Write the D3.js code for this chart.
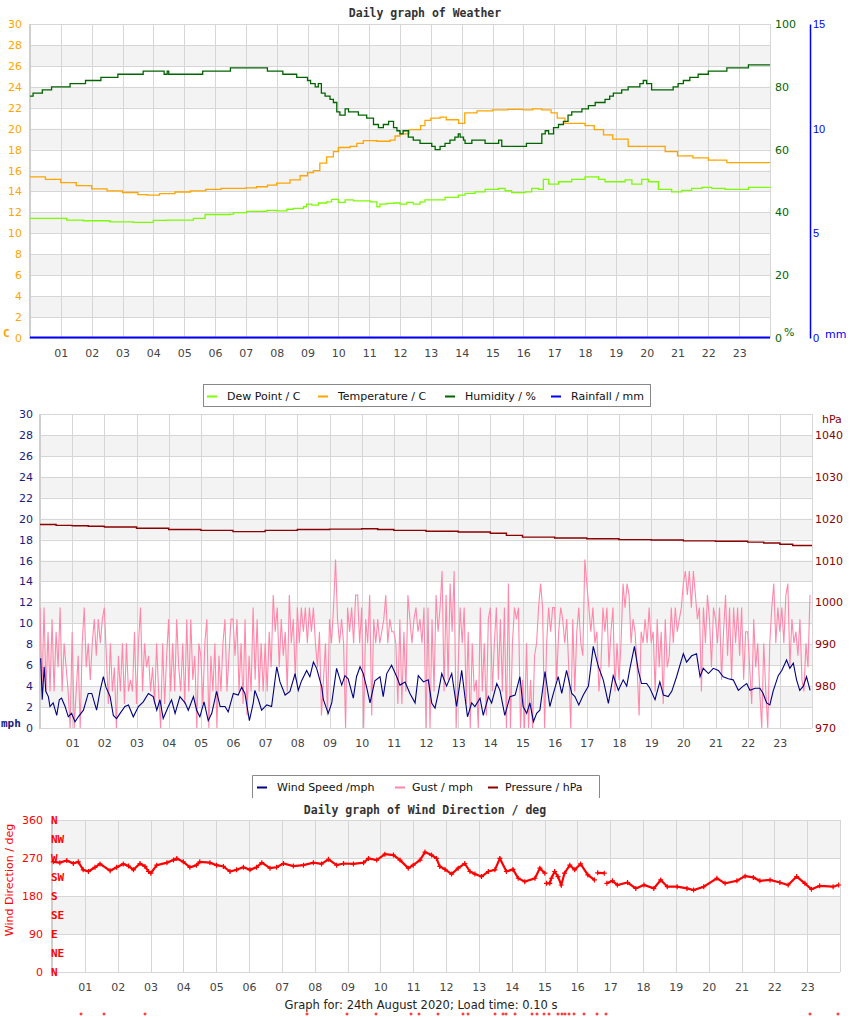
<!DOCTYPE html>
<html><head><meta charset="utf-8">
<script src="https://cdn.jsdelivr.net/npm/d3@7"></script>
<style>
body{margin:0;background:#fff;}
svg{display:block;font-family:"DejaVu Sans",sans-serif;}
.mono{font-family:"DejaVu Sans Mono",monospace;font-weight:bold;}
</style></head><body>
<svg id="c" width="850" height="1017"></svg>
<script>
// ---------- tick labels / categories ----------
const hourTicks = d3.range(1, 24);
const tempTicks = d3.range(0, 31, 2);
const humTicks = [0, 20, 40, 60, 80, 100];
const rainTicks = [0, 5, 10, 15];
const windTicks = d3.range(0, 31, 2);
const pressTicks = [970, 980, 990, 1000, 1010, 1020, 1030, 1040];
const dirTicks = [0, 90, 180, 270, 360];
const compassLabels = ["N", "NE", "E", "SE", "S", "SW", "W", "NW", "N"];
const compassValues = [0, 45, 90, 135, 180, 225, 270, 315, 360];

// ---------- chart 1 series: [hour, value] ----------
const temperature = [[0,15.4],[0.5,15.15],[1,14.85],[1.5,14.55],[2,14.25],[2.5,14.05],[3,13.9],[3.5,13.7],[3.8,13.65],[4.2,13.8],[4.7,13.95],[5.2,14.05],[5.7,14.2],[6.2,14.3],[6.6,14.3],[7.0,14.35],[7.35,14.45],[7.7,14.6],[8.0,14.8],[8.43,15.1],[8.76,15.5],[9.0,15.8],[9.19,16.0],[9.4,16.7],[9.62,17.3],[9.84,17.8],[10.0,18.2],[10.38,18.3],[10.6,18.6],[10.81,18.85],[11.25,18.8],[11.68,18.9],[11.84,19.3],[12.0,19.5],[12.3,19.9],[12.5,19.9],[12.67,20.3],[12.81,20.8],[13.0,21.0],[13.3,21.1],[13.5,20.85],[13.9,20.5],[14.1,21.5],[14.5,21.7],[15.0,21.8],[15.5,21.85],[16.0,21.8],[16.3,21.9],[16.6,21.8],[16.9,21.5],[17.1,21.0],[17.35,20.5],[18.0,20.3],[18.3,19.9],[18.6,19.4],[18.9,19.0],[19.4,18.3],[20.2,18.3],[20.6,17.8],[21.0,17.4],[21.5,17.2],[22.0,17.0],[22.6,16.75],[24,16.75]];

const dewPoint = [[0,11.43],[0.65,11.43],[1.19,11.27],[1.73,11.2],[2.27,11.2],[2.59,11.1],[3.35,11.05],[3.57,11.05],[4.0,11.24],[4.43,11.27],[4.87,11.27],[5.3,11.43],[5.68,11.8],[6.49,11.84],[6.6,11.97],[7.03,12.1],[7.68,12.2],[8.0,12.15],[8.33,12.3],[8.54,12.38],[8.87,12.54],[8.97,12.8],[9.14,12.7],[9.35,12.9],[9.62,13.0],[9.78,13.25],[10.0,12.95],[10.22,13.2],[10.49,13.1],[10.81,13.1],[11.03,13.0],[11.25,12.54],[11.35,12.8],[11.57,12.86],[11.79,12.9],[12.0,12.8],[12.22,12.95],[12.43,12.8],[12.65,13.0],[12.81,13.2],[13.14,13.2],[13.46,13.44],[13.89,13.66],[14.11,13.82],[14.43,13.97],[14.76,14.2],[15.19,14.3],[15.41,14.07],[15.62,13.88],[16.06,13.97],[16.27,14.3],[16.49,14.2],[16.65,15.16],[16.82,14.7],[17.14,14.93],[17.57,15.16],[18.0,15.4],[18.22,15.4],[18.44,15.16],[18.65,14.93],[19.08,14.93],[19.3,15.1],[19.52,14.7],[19.84,15.16],[20.06,14.93],[20.38,14.2],[20.81,13.97],[21.14,14.1],[21.46,14.3],[21.79,14.4],[22.11,14.3],[22.54,14.2],[23.19,14.2],[23.3,14.4],[24,14.45]];

const humidity = [[0,77],[0.1,78],[0.4,79],[0.7,80],[1.3,81],[1.8,82],[2.3,83],[2.85,84],[3.67,85],[4.35,84],[4.45,85],[4.5,84],[5.6,85],[6.5,86],[7.7,85],[8.2,84],[8.65,83],[9.0,82],[9.1,81],[9.25,80],[9.35,81],[9.45,78],[9.57,77],[9.73,76],[9.84,75],[9.95,72],[10.05,71],[10.22,73],[10.33,72],[10.65,71],[10.92,70],[11.14,68],[11.3,67],[11.46,68],[11.63,69],[11.79,67],[11.9,66],[12.0,65],[12.1,66],[12.27,64],[12.43,63],[12.65,62],[13.03,61],[13.14,60],[13.3,61],[13.46,62],[13.62,63],[13.78,64],[13.89,65],[13.95,64],[14.06,63],[14.11,62],[14.33,63],[14.76,62],[15.2,63],[15.3,61],[16.1,62],[16.5,62],[16.6,65],[16.71,66],[16.82,65],[16.98,67],[17.14,68],[17.3,69],[17.45,71],[17.57,72],[17.9,73],[18.11,74],[18.33,75],[18.65,76],[18.8,77],[18.92,78],[19.19,79],[19.4,80],[19.78,81],[19.89,82],[20.0,81],[20.16,79],[20.86,80],[21.02,81],[21.19,82],[21.4,83],[21.67,84],[22.0,85],[22.6,86],[23.3,87],[24,87]];

const rainfall = [[0,0],[24,0]];

// ---------- chart 2 series ----------
const windSpeed = [[0.02,6.66],[0.07,2.7],[0.13,5.85],[0.18,3.5],[0.26,3.0],[0.31,2.05],[0.41,2.4],[0.52,1.2],[0.6,2.7],[0.67,2.85],[0.78,2.05],[0.88,1.07],[0.98,1.4],[1.09,0.6],[1.19,1.07],[1.35,1.7],[1.5,3.3],[1.61,3.3],[1.76,1.7],[1.87,3.6],[1.97,4.9],[2.05,3.9],[2.18,3.0],[2.28,1.2],[2.38,0.9],[2.49,1.4],[2.64,2.05],[2.75,2.2],[2.9,1.07],[3.06,2.05],[3.21,2.5],[3.37,3.3],[3.52,3.0],[3.63,1.7],[3.73,2.7],[3.83,0.9],[3.99,2.05],[4.09,2.7],[4.2,1.4],[4.35,3.0],[4.51,2.4],[4.61,1.7],[4.77,3.0],[4.87,1.7],[4.97,1.07],[5.1,2.5],[5.23,0.7],[5.34,1.4],[5.49,3.5],[5.6,2.05],[5.75,2.05],[5.85,1.55],[6.01,3.3],[6.16,3.15],[6.27,3.9],[6.37,3.3],[6.51,0.7],[6.63,2.4],[6.68,3.6],[6.79,2.7],[6.89,1.7],[7.05,2.2],[7.2,2.05],[7.36,5.85],[7.46,4.4],[7.62,3.15],[7.77,3.5],[7.93,5.2],[8.03,3.6],[8.13,4.5],[8.29,5.5],[8.39,4.9],[8.5,6.3],[8.6,5.7],[8.76,3.9],[8.81,2.7],[8.96,1.4],[9.07,2.4],[9.22,5.7],[9.38,4.1],[9.48,5.0],[9.58,4.7],[9.74,2.85],[9.84,4.9],[9.95,5.85],[10.05,5.2],[10.16,3.8],[10.26,2.4],[10.41,4.5],[10.57,4.9],[10.67,3.0],[10.78,5.2],[10.93,6.0],[11.09,4.9],[11.19,4.1],[11.35,4.4],[11.5,3.3],[11.66,2.4],[11.76,5.0],[11.92,4.4],[12.07,4.6],[12.18,2.35],[12.28,1.9],[12.38,3.3],[12.49,5.2],[12.64,4.0],[12.8,5.2],[12.95,2.05],[13.11,5.5],[13.21,3.0],[13.29,1.07],[13.42,2.4],[13.52,2.05],[13.68,2.85],[13.78,1.2],[13.94,3.0],[14.04,2.4],[14.2,4.25],[14.3,3.6],[14.45,1.2],[14.61,3.0],[14.77,3.15],[14.92,4.9],[15.02,2.05],[15.13,1.4],[15.23,2.4],[15.34,0.6],[15.44,1.4],[15.54,1.7],[15.7,5.4],[15.85,2.05],[15.96,3.3],[16.11,4.9],[16.22,3.3],[16.37,5.5],[16.53,3.3],[16.63,3.0],[16.75,2.2],[16.89,3.15],[17.05,4.0],[17.2,7.8],[17.36,5.85],[17.51,4.6],[17.67,2.35],[17.82,5.0],[17.98,3.6],[18.13,4.6],[18.24,4.0],[18.34,5.7],[18.48,7.8],[18.6,5.5],[18.7,4.25],[18.86,4.25],[18.96,3.8],[19.12,2.7],[19.27,4.4],[19.38,3.15],[19.53,3.0],[19.64,3.5],[19.79,4.9],[20.0,7.1],[20.1,6.3],[20.26,6.9],[20.41,7.1],[20.52,4.9],[20.62,5.7],[20.78,5.2],[20.93,5.7],[21.09,5.5],[21.24,4.9],[21.4,4.7],[21.55,4.6],[21.71,3.6],[21.86,4.0],[21.97,4.25],[22.07,3.6],[22.23,3.8],[22.38,3.8],[22.48,3.3],[22.59,2.4],[22.69,2.2],[22.79,3.5],[22.95,5.0],[23.06,5.5],[23.21,6.5],[23.31,5.7],[23.42,6.2],[23.52,4.6],[23.62,3.6],[23.73,4.0],[23.83,4.9],[23.94,3.6]];

// gust readings, 16 per hour (one row per hour)
const gust = [
 11.5,3.5,11.5,3.5,9.2,3.5,10.4,3.5,9.2,5.8,11.5,3.5,8.1,5.8,3.5,0,
 9.2,0,3.5,6.9,0,8.1,11.5,5.8,8.1,4.6,8.1,10.4,6.9,10.4,8.1,10.4,
 11.5,6.9,2.3,8.1,3.5,5.8,0,6.9,3.5,8.1,2.3,8.1,3.5,4.6,3.5,9.2,
 2.3,8.1,11.5,3.5,8.1,5.8,6.9,3.5,5.8,2.3,8.1,3.5,0,8.1,2.3,6.9,
 10.4,3.5,8.1,3.5,10.4,5.8,3.5,8.1,2.3,10.4,3.5,10.4,4.6,6.9,0,8.1,
 6.9,2.3,8.1,10.4,0,6.9,3.5,8.1,0,6.9,3.5,8.1,10.4,3.5,6.9,10.4,
 10.4,6.9,10.4,3.5,8.1,2.3,10.4,1.2,6.9,3.5,11.5,4.6,10.4,3.5,8.1,3.5,
 8.1,3.5,9.2,5.8,12.7,9.2,11.5,5.8,10.4,6.9,9.2,3.5,12.7,8.1,10.4,4.6,
 11.5,8.1,11.5,9.2,11.5,8.1,11.5,9.2,11.5,8.1,5.8,9.2,1.2,4.6,8.1,1.2,
 10.4,8.1,11.5,16.1,10.4,8.1,10.4,8.1,0,11.5,9.2,11.5,8.1,12.7,12.7,8.1,
 11.5,0,10.4,8.1,12.7,1.2,10.4,8.1,10.4,8.1,9.2,10.4,12.7,8.1,10.4,9.2,
 9.2,8.1,2.3,10.4,2.3,9.2,3.5,12.7,10.4,8.1,10.4,11.5,9.2,10.4,8.1,11.5,
 0,11.5,0,10.4,3.5,12.7,9.2,11.5,15.0,3.5,12.7,4.6,13.8,9.2,15.0,0,
 5.8,11.5,8.1,11.5,2.3,9.2,0,8.1,3.5,4.6,0,11.5,3.5,8.1,1.2,10.4,
 11.5,3.5,8.1,11.5,4.6,10.4,3.5,11.5,0,13.8,0,8.1,11.5,10.4,11.5,0,
 4.6,0,8.1,0,4.6,0,6.9,8.1,11.5,13.8,11.5,0,8.1,11.5,9.2,11.5,
 11.5,4.6,9.2,11.5,10.4,8.1,10.4,5.8,0,10.4,3.5,9.2,11.5,8.1,6.9,16.1,
 13.8,11.5,9.2,11.5,8.1,9.2,3.5,5.8,11.5,9.2,11.5,5.8,9.2,11.5,3.5,8.1,
 4.6,8.1,13.8,11.5,13.8,12.7,8.1,10.4,9.2,5.8,1.2,9.2,8.1,10.4,8.1,11.5,
 8.1,9.2,3.5,10.4,5.8,9.2,2.3,10.4,5.8,6.9,11.5,8.1,11.5,9.2,10.4,11.5,
 13.8,15.0,12.7,15.0,11.5,15.0,12.7,10.4,11.5,3.5,11.5,8.1,12.7,10.4,5.8,11.5,
 10.4,8.1,11.5,4.6,9.2,12.7,6.9,11.5,4.6,11.5,8.1,11.5,6.9,11.5,4.6,9.2,
 9.2,5.8,2.3,10.4,5.8,8.1,3.5,0,8.1,3.5,0,8.1,11.5,13.8,8.1,11.5,
 9.2,11.5,8.1,12.7,13.8,5.8,10.4,8.1,9.2,6.9,10.4,4.6,3.5,8.1,5.8,12.7
];
const gustPerHour = 16;

const pressure = [[0,1018.6],[0.5,1018.4],[1,1018.3],[1.5,1018.2],[2,1018.0],[3,1017.7],[4,1017.4],[5,1017.2],[6,1016.9],[6.5,1016.9],[7,1017.2],[8,1017.4],[9,1017.5],[10,1017.6],[10.5,1017.4],[11,1017.2],[12,1017.0],[13,1016.8],[14,1016.5],[14.5,1016.0],[15,1015.6],[16,1015.4],[17,1015.2],[18,1015.0],[19,1014.9],[20,1014.7],[21,1014.6],[22,1014.4],[22.5,1014.2],[23,1013.9],[23.4,1013.6],[24,1013.5]];

// ---------- chart 3 series ----------
const windDir = [[0.04,261],[0.24,259],[0.45,264],[0.65,257],[0.8,261],[0.95,242],[1.11,238],[1.31,248],[1.46,256],[1.77,240],[1.97,248],[2.17,256],[2.33,251],[2.48,242],[2.68,257],[2.83,250],[2.94,238],[3.01,234],[3.19,253],[3.5,259],[3.7,265],[3.8,269],[4.0,261],[4.2,248],[4.4,253],[4.5,261],[4.81,259],[5.01,253],[5.22,250],[5.42,238],[5.62,242],[5.83,248],[6.03,242],[6.23,248],[6.39,259],[6.64,246],[6.84,248],[7.05,257],[7.35,251],[7.66,253],[7.96,259],[8.21,256],[8.42,267],[8.67,253],[8.88,257],[9.18,256],[9.49,259],[9.64,269],[9.89,265],[10.14,279],[10.4,277],[10.6,265],[10.85,246],[11.0,253],[11.21,265],[11.36,284],[11.56,277],[11.71,269],[11.81,250],[11.97,243],[12.17,232],[12.37,246],[12.57,257],[12.73,238],[12.88,232],[13.08,226],[13.29,238],[13.49,242],[13.64,269],[13.84,238],[14.04,243],[14.2,222],[14.4,214],[14.71,222],[14.86,246],[15.01,234],null,[15.06,210],[15.16,210],[15.21,222],[15.31,238],[15.41,226],[15.51,206],[15.61,234],[15.77,253],[15.92,242],[16.1,256],[16.32,230],[16.52,218],null,[16.62,235],[16.82,234],null,[16.9,210],[17.07,216],[17.22,206],[17.53,212],[17.78,198],[18.03,206],[18.33,198],[18.54,218],[18.74,202],[19.04,202],[19.34,198],[19.54,194],[19.85,202],[20.25,222],[20.5,210],[20.86,216],[21.11,227],[21.36,224],[21.56,216],[21.87,218],[22.17,212],[22.42,206],[22.68,226],[22.93,210],[23.13,196],[23.38,204],[23.79,202],[23.96,206]];

const calmTimes = [0.88,1.58,2.83,7.77,8.99,9.87,10.94,11.18,11.76,12.52,12.67,13.49,13.74,13.83,14.1,14.62,14.77,14.99,15.14,15.41,15.53,15.63,15.75,15.9,16.2,16.6,16.87,23.09,23.94];

const legend1 = [["Dew Point / C","#7cfc00"],["Temperature / C","#ffa500"],["Humidity / %","#006400"],["Rainfall / mm","#0000ff"]];
const legend2 = [["Wind Speed /mph","#000080"],["Gust / mph","#ff88aa"],["Pressure / hPa","#8b0000"]];

// ---------- drawing ----------
const svg = d3.select("#c");
svg.append("rect").attr("width",850).attr("height",1017).attr("fill","#fff");
const GRID = "#d6d6d6", BAND = "#f3f3f3";
const fmt2 = d3.format("02d");

function frame(x, y, ticks, bandTest, x0, x1, y0, y1) {
  const g = svg.append("g");
  for (let i = 0; i < ticks.length - 1; i++) {
    if (bandTest(ticks[i])) {
      g.append("rect").attr("x", x0).attr("width", x1 - x0)
        .attr("y", y(ticks[i+1])).attr("height", y(ticks[i]) - y(ticks[i+1])).attr("fill", BAND);
    }
  }
  ticks.forEach(t => g.append("line").attr("x1", x0).attr("x2", x1)
    .attr("y1", Math.round(y(t)) + 0.5).attr("y2", Math.round(y(t)) + 0.5).attr("stroke", GRID));
  hourTicks.forEach(h => g.append("line").attr("y1", y0).attr("y2", y1)
    .attr("x1", Math.round(x(h)) + 0.5).attr("x2", Math.round(x(h)) + 0.5).attr("stroke", GRID));
  g.append("line").attr("x1", x1 + 0.5).attr("x2", x1 + 0.5).attr("y1", y0).attr("y2", y1).attr("stroke", GRID);
  g.append("line").attr("x1", x0).attr("x2", x0).attr("y1", y0).attr("y2", y1 + 1).attr("stroke", "#cfcfcf").attr("stroke-width", 2);
  return g;
}
function xAxis(x, yPos) {
  const g = svg.append("g").attr("transform", `translate(0,${yPos})`)
    .call(d3.axisBottom(x).tickValues(hourTicks).tickFormat(fmt2).tickSize(0).tickPadding(11));
  g.select(".domain").remove();
  g.selectAll("text").attr("font-size", 11).attr("fill", "#444").attr("font-family", "DejaVu Sans");
}
function styleAxis(g, color) {
  g.select(".domain").remove();
  g.selectAll("text").attr("font-size", 11).attr("fill", color).attr("font-family", "DejaVu Sans");
}
function title(txt, cx, y) {
  svg.append("text").attr("class", "mono").attr("x", cx).attr("y", y).attr("text-anchor", "middle")
    .attr("font-size", 11.5).attr("fill", "#333").text(txt);
}

// ===== Chart 1 =====
const x1 = d3.scaleLinear([0, 24], [30, 770]);
const yT = d3.scaleLinear([0, 30], [338, 24]);
const yH = d3.scaleLinear([0, 100], [338, 24]);
const yR = d3.scaleLinear([0, 15], [338, 24]);
title("Daily graph of Weather", 425, 17);
frame(x1, yT, tempTicks, v => v % 4 === 2, 30, 770, 24, 338);
styleAxis(svg.append("g").attr("transform", "translate(30,0)")
  .call(d3.axisLeft(yT).tickValues(tempTicks).tickSize(0).tickPadding(8)), "#ffa500");
styleAxis(svg.append("g").attr("transform", "translate(770,0)")
  .call(d3.axisRight(yH).tickValues(humTicks).tickSize(0).tickPadding(5)), "#006400");
const rAx = svg.append("g").attr("transform", "translate(810,0)")
  .call(d3.axisRight(yR).tickValues(rainTicks).tickSize(0).tickPadding(3));
rAx.selectAll("text").attr("font-size", 11).attr("fill", "#0000ff");
rAx.select(".domain").attr("stroke", "#0000ff").attr("stroke-width", 1.5);
svg.append("text").attr("x", 3).attr("y", 337).attr("class", "mono").attr("font-size", 11).attr("fill", "#ffa500").text("C");
svg.append("text").attr("x", 784).attr("y", 336).attr("font-size", 11).attr("fill", "#006400").text("%");
svg.append("text").attr("x", 825).attr("y", 338).attr("font-size", 11).attr("fill", "#0000ff").text("mm");
xAxis(x1, 338);

const c1 = svg.append("g");
const lineT = d3.line().x(d => x1(d[0])).y(d => yT(d[1])).curve(d3.curveStepAfter);
c1.append("path").datum(dewPoint).attr("d", lineT).attr("fill", "none").attr("stroke", "#7cfc00").attr("stroke-width", 1.3);
c1.append("path").datum(temperature).attr("d", lineT).attr("fill", "none").attr("stroke", "#ffa500").attr("stroke-width", 1.3);
c1.append("path").datum(humidity).attr("d", d3.line().x(d => x1(d[0])).y(d => yH(d[1])).curve(d3.curveStepAfter))
  .attr("fill", "none").attr("stroke", "#006400").attr("stroke-width", 1.3);
c1.append("path").datum(rainfall).attr("d", d3.line().x(d => x1(d[0])).y(d => yR(d[1]) - 0.5))
  .attr("fill", "none").attr("stroke", "#0000ff").attr("stroke-width", 2);

// ===== Chart 2 =====
const x2 = d3.scaleLinear([0, 24], [40, 812]);
const yW = d3.scaleLinear([0, 30], [728, 414]);
const yP = d3.scaleLinear([970, 1045], [728, 414]);
// legend 1
const lg1 = svg.append("g");
lg1.append("rect").attr("x", 203.5).attr("y", 384.5).attr("width", 447).attr("height", 22).attr("fill", "#fff").attr("stroke", "#888");
const lg1x = [207, 318, 445, 551];
legend1.forEach((d, i) => {
  lg1.append("line").attr("x1", lg1x[i]).attr("x2", lg1x[i] + 10).attr("y1", 396.5).attr("y2", 396.5).attr("stroke", d[1]).attr("stroke-width", 2);
  lg1.append("text").attr("x", lg1x[i] + 20).attr("y", 400).attr("font-size", 11).attr("fill", "#111").text(d[0]);
});
frame(x2, yW, windTicks, v => v % 4 === 2, 40, 812, 414, 728);
styleAxis(svg.append("g").attr("transform", "translate(40,0)")
  .call(d3.axisLeft(yW).tickValues(windTicks).tickSize(0).tickPadding(7)), "#1a1a80");
styleAxis(svg.append("g").attr("transform", "translate(812,0)")
  .call(d3.axisRight(yP).tickValues(pressTicks).tickFormat(d3.format("d")).tickSize(0).tickPadding(3)), "#8b0000");
svg.append("text").attr("x", 822).attr("y", 423).attr("font-size", 11).attr("fill", "#8b0000").text("hPa");
svg.append("text").attr("x", 1).attr("y", 727).attr("class", "mono").attr("font-size", 11).attr("fill", "#1a1a80").text("mph");
xAxis(x2, 728);
svg.append("clipPath").attr("id", "clip2").append("rect").attr("x", 40).attr("y", 414).attr("width", 772).attr("height", 315);
const c2 = svg.append("g").attr("clip-path", "url(#clip2)");
c2.append("path").datum(gust).attr("d", d3.line().x((d, i) => x2(i / gustPerHour)).y(d => yW(d)))
  .attr("fill", "none").attr("stroke", "#ff88aa").attr("stroke-width", 1.1);
c2.append("path").datum(windSpeed).attr("d", d3.line().x(d => x2(d[0])).y(d => yW(d[1])))
  .attr("fill", "none").attr("stroke", "#000080").attr("stroke-width", 1.1);
c2.append("path").datum(pressure).attr("d", d3.line().x(d => x2(d[0])).y(d => yP(d[1])).curve(d3.curveStepAfter))
  .attr("fill", "none").attr("stroke", "#8b0000").attr("stroke-width", 1.4);

// legend 2
const lg2 = svg.append("g");
lg2.append("path").attr("d", "M252.5,798V775.5H599.5V798").attr("fill", "#fff").attr("stroke", "#888");
const lg2x = [257, 395, 488];
legend2.forEach((d, i) => {
  lg2.append("line").attr("x1", lg2x[i]).attr("x2", lg2x[i] + 10).attr("y1", 787.5).attr("y2", 787.5).attr("stroke", d[1]).attr("stroke-width", 2);
  lg2.append("text").attr("x", lg2x[i] + (i === 0 ? 20 : 17)).attr("y", 791).attr("font-size", 11).attr("fill", "#111").text(d[0]);
});

// ===== Chart 3 =====
const x3 = d3.scaleLinear([0, 24], [52, 840]);
const yD = d3.scaleLinear([0, 360], [972, 820]);
title("Daily graph of Wind Direction / deg", 425, 814);
frame(x3, yD, dirTicks, v => v === 90 || v === 270, 52, 840, 820, 972);
styleAxis(svg.append("g").attr("transform", "translate(52,0)")
  .call(d3.axisLeft(yD).tickValues(dirTicks).tickSize(0).tickPadding(9)), "#ff0000");
compassValues.forEach((v, i) => svg.append("text").attr("class", "mono").attr("x", 51).attr("y", yD(v) + 4)
  .attr("font-size", 11).attr("fill", "#ff0000").text(compassLabels[i]));
svg.append("text").attr("transform", "translate(13,880) rotate(-90)").attr("text-anchor", "middle")
  .attr("font-size", 11).attr("fill", "#ff0000").text("Wind Direction / deg");
xAxis(x3, 972);
const c3 = svg.append("g");
c3.append("path").datum(windDir).attr("d", d3.line().defined(d => d).x(d => x3(d[0])).y(d => yD(d[1])))
  .attr("fill", "none").attr("stroke", "#ff0000").attr("stroke-width", 2.2);
const plus = "M-2.5,0H2.5M0,-2.5V2.5";
c3.selectAll(".pt").data(windDir.filter(d => d)).join("path")
  .attr("transform", d => `translate(${x3(d[0])},${yD(d[1])})`).attr("d", plus).attr("stroke", "#ff0000").attr("stroke-width", 1.2);
c3.selectAll(".calm").data(calmTimes).join("path")
  .attr("transform", d => `translate(${Math.round(x3(d))},1014)`).attr("d", "M-1.5,0H1.5M0,-1.5V1.5").attr("stroke", "#ff0000").attr("stroke-width", 1);

svg.append("text").attr("x", 421).attr("y", 1009).attr("text-anchor", "middle").attr("font-size", 11.5)
  .attr("fill", "#222").text("Graph for: 24th August 2020; Load time: 0.10 s");
</script></body></html>
